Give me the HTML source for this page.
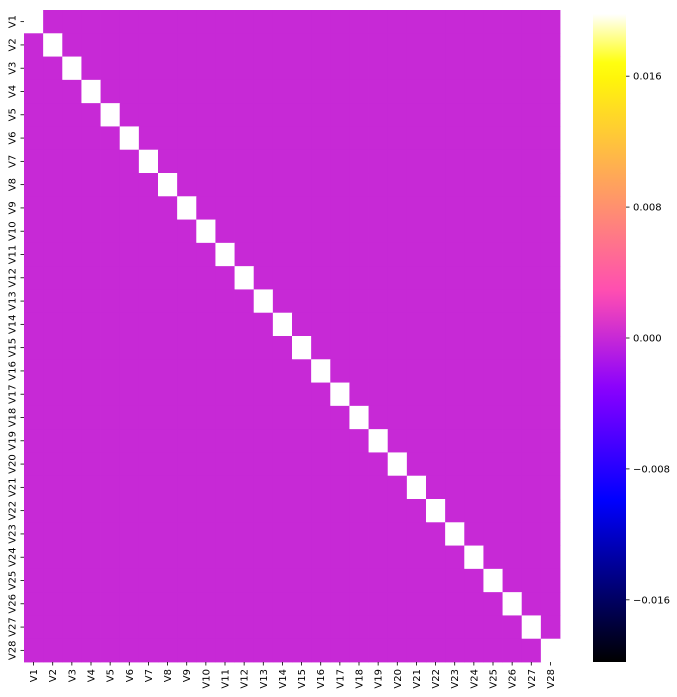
<!DOCTYPE html>
<html><head><meta charset="utf-8"><style>
html,body{margin:0;padding:0;background:#fff;}
svg{display:block;font-family:"DejaVu Sans","Liberation Sans",sans-serif;}
</style></head><body>
<svg id="chart" width="677" height="697" viewBox="0 0 677 697" xmlns="http://www.w3.org/2000/svg">
<defs><linearGradient id="cbgrad" x1="0" y1="1" x2="0" y2="0"></linearGradient></defs>
<g id="cells"></g>
<g id="yticks"></g>
<g id="xticks"></g>
<rect x="593" y="14" width="33" height="648" fill="url(#cbgrad)"/>
<g id="cbticks"></g>
</svg>
<script>
const labels = Array.from({length:28},(_,i)=>'V'+(i+1));
const N = 28;
const corr = [];
for (let i=0;i<N;i++){ const row=[]; for(let j=0;j<N;j++){ row.push(i===j?1:0); } corr.push(row); }
const cbTickValues = [0.016, 0.008, 0.0, -0.008, -0.016];
const cbTickLabels = ['0.016','0.008','0.000','\u22120.008','\u22120.016'];
const vmin = -0.0198, vmax = 0.0198;

const X0=24, Y0=10, W=536, H=652;
const cw=W/N, ch=H/N;
const xPos = j => X0 + j*cw;
const yPos = i => Y0 + i*ch;
const cbY = v => 14 + (vmax - v)/(vmax - vmin)*648;

function clamp(v){return Math.max(0,Math.min(1,v));}
function cmap(t){
  t=clamp(t);
  const r=clamp(t/0.32-0.78125), g=clamp(2*t-0.84);
  let b; if(t<0.25) b=4*t; else if(t<0.42) b=1; else if(t<0.92) b=-2*t+1.84; else b=t/0.08-11.5;
  b=clamp(b);
  return `rgb(${Math.round(r*255)},${Math.round(g*255)},${Math.round(b*255)})`;
}
const NS='http://www.w3.org/2000/svg';
function mk(tag,attrs,parent){const e=document.createElementNS(NS,tag);for(const k in attrs)e.setAttribute(k,attrs[k]);parent.appendChild(e);return e;}

const cells=document.getElementById('cells');
for(let i=0;i<N;i++)for(let j=0;j<N;j++){
  const v=corr[i][j];
  const r=mk('rect',{x:xPos(j).toFixed(2),y:yPos(i).toFixed(2),width:(cw+0.4).toFixed(2),height:(ch+0.4).toFixed(2),fill:cmap((v-vmin)/(vmax-vmin))},cells);
  
  
}
const yt=document.getElementById('yticks');
labels.forEach((l,i)=>{
  const cy=yPos(i)+ch/2;
  mk('line',{x1:20.5,x2:24,y1:cy,y2:cy,stroke:'#000','stroke-width':0.8},yt);
  const t=mk('text',{x:0,y:0,transform:`translate(15.5,${cy}) rotate(-90)`,'text-anchor':'middle','font-size':'10',fill:'#000'},yt);
  t.textContent=l;
  
  
});
const xt=document.getElementById('xticks');
labels.forEach((l,j)=>{
  const cx=xPos(j)+cw/2;
  mk('line',{x1:cx,x2:cx,y1:662,y2:665.5,stroke:'#000','stroke-width':0.8},xt);
  const t=mk('text',{x:0,y:0,transform:`translate(${cx+3.5},669) rotate(-90)`,'text-anchor':'end','font-size':'10',fill:'#000'},xt);
  t.textContent=l;
  
  
});
const grad=document.getElementById('cbgrad');
for(let k=0;k<=40;k++){mk('stop',{offset:(k/40),'stop-color':cmap(k/40)},grad);}
const cbt=document.getElementById('cbticks');
cbTickValues.forEach((v,k)=>{
  const y=cbY(v);
  mk('line',{x1:626,x2:629.5,y1:y,y2:y,stroke:'#000','stroke-width':0.8},cbt);
  const t=mk('text',{x:633,y:y+3.5,'font-size':'10',fill:'#000'},cbt);
  t.textContent=cbTickLabels[k];
  
  
});
</script>
</body></html>
